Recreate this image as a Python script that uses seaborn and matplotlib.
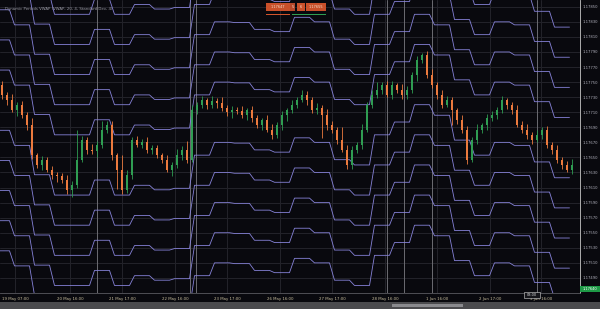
import numpy as np
import pandas as pd
import matplotlib
matplotlib.use("Agg")
import matplotlib.pyplot as plt
from matplotlib.patches import Rectangle
import seaborn as sns

# ---------------- data ----------------
close = [
    1.17733, 1.17726, 1.17713, 1.17720, 1.17706, 1.17693, 1.17653, 1.17640, 1.17647, 1.17633,
    1.17627, 1.17625, 1.17620, 1.17607, 1.17614, 1.17647, 1.17673, 1.17660, 1.17658, 1.17667,
    1.17687, 1.17693, 1.17653, 1.17633, 1.17607, 1.17627, 1.17673, 1.17667, 1.17671, 1.17660,
    1.17662, 1.17653, 1.17647, 1.17633, 1.17640, 1.17653, 1.17660, 1.17647, 1.17713, 1.17720,
    1.17726, 1.17719, 1.17725, 1.17722, 1.17716, 1.17710, 1.17713, 1.17712, 1.17706, 1.17713,
    1.17702, 1.17693, 1.17700, 1.17687, 1.17680, 1.17693, 1.17706, 1.17713, 1.17720, 1.17726,
    1.17733, 1.17726, 1.17713, 1.17716, 1.17706, 1.17693, 1.17687, 1.17673, 1.17660, 1.17640,
    1.17660, 1.17667, 1.17687, 1.17720, 1.17733, 1.17740, 1.17746, 1.17733, 1.17746, 1.17740,
    1.17733, 1.17740, 1.17760, 1.17779, 1.17786, 1.17760, 1.17746, 1.17733, 1.17720, 1.17726,
    1.17713, 1.17700, 1.17687, 1.17647, 1.17673, 1.17687, 1.17693, 1.17702, 1.17706, 1.17713,
    1.17726, 1.17720, 1.17713, 1.17693, 1.17687, 1.17680, 1.17673, 1.17680, 1.17687, 1.17667,
    1.17660, 1.17647, 1.17640, 1.17633, 1.17640,
]
first_open = 1.17746
upper_wick_pts = [
    6, 4, 8, 3, 5, 4, 10, 3, 5, 4,
    6, 3, 4, 7, 5, 40, 6, 4, 8, 5,
    12, 6, 5, 3, 20, 6, 4, 5, 3, 6,
    4, 5, 3, 6, 4, 8, 5, 12, 6, 4,
    5, 3, 6, 4, 8, 3, 5, 4, 6, 3,
    5, 4, 3, 6, 8, 4, 5, 3, 6, 4,
    7, 5, 4, 6, 3, 8, 5, 4, 18, 6,
    5, 4, 8, 3, 6, 10, 4, 5, 6, 3,
    8, 5, 4, 6, 3, 5, 7, 4, 6, 5,
    4, 3, 6, 5, 4, 8, 3, 5, 6, 4,
    5, 3, 4, 6, 5, 8, 4, 6, 3, 5,
    4, 6, 3, 5, 8,
]
lower_wick_pts = [
    5, 6, 3, 8, 4, 6, 5, 4, 7, 3,
    5, 8, 4, 6, 10, 5, 3, 6, 4, 7,
    5, 4, 6, 25, 5, 4, 6, 3, 5, 4,
    6, 4, 5, 3, 8, 4, 6, 5, 3, 6,
    4, 5, 3, 6, 4, 5, 8, 4, 3, 6,
    5, 4, 6, 3, 5, 4, 6, 7, 4, 5,
    3, 6, 4, 5, 30, 6, 4, 5, 3, 6,
    5, 4, 6, 3, 5, 4, 6, 3, 5, 4,
    6, 5, 4, 8, 3, 5, 4, 6, 5, 3,
    20, 5, 4, 6, 3, 5, 4, 6, 3, 5,
    4, 6, 5, 3, 4, 6, 5, 3, 6, 4,
    5, 4, 6, 3, 5,
]
# VWAP value once every 4 candles (stepped)
vwap = [
    1.17726, 1.17706, 1.17667, 1.17640, 1.17640, 1.17660, 1.17640, 1.17653, 1.17647, 1.17649,
    1.17693, 1.17710, 1.17709, 1.17700, 1.17697, 1.17716, 1.17710, 1.17687, 1.17680, 1.17720,
    1.17737, 1.17760, 1.17746, 1.17713, 1.17693, 1.17710, 1.17706, 1.17684, 1.17663,
]
band_mult = [-5, -4, -3, -2, -1, 1, 2, 3, 4, 5]
band_dev = 0.00040

price_ticks = [1.17850, 1.17830, 1.17810, 1.17790, 1.17770, 1.17750, 1.17730, 1.17710,
               1.17690, 1.17670, 1.17650, 1.17630, 1.17610, 1.17590, 1.17570, 1.17550,
               1.17530, 1.17510, 1.17490]
time_tick_pos = [2.6, 13.6, 24.0, 34.6, 45.0, 55.6, 66.0, 76.6, 87.0, 97.6, 107.8]
time_labels = ["19 May 07:00", "20 May 16:00", "21 May 17:00", "22 May 16:00",
               "23 May 17:00", "26 May 16:00", "27 May 17:00", "28 May 16:00",
               "1 Jun 16:00", "2 Jun 17:00", "3 Jun 16:00"]
separators = [19.0, 37.6, 38.8, 77.0, 80.4, 86.0, 107.0]

# ---------------- styling ----------------
BG = "#09090e"
GRID = "#23232a"
UP = "#2f9d52"
DOWN = "#ec7a3e"
BAND = "#8682d8"

sns.set_theme(style="dark")
plt.rcParams["font.family"] = ["DejaVu Sans"]

W, H = 600, 309
fig = plt.figure(figsize=(W / 100, H / 100), dpi=100, facecolor=BG)
ax = fig.add_axes([0, 16 / H, 580 / W, 293 / H])
ax.set_facecolor(BG)

n = len(close)
idx = np.arange(n)
opens = [first_open] + close[:-1]
df = pd.DataFrame({"i": idx, "open": opens, "close": close,
                   "uw": np.array(upper_wick_pts) * 1e-5,
                   "lw": np.array(lower_wick_pts) * 1e-5})
df["top"] = df[["open", "close"]].max(axis=1)
df["bot"] = df[["open", "close"]].min(axis=1)
df["high"] = df["top"] + df["uw"]
df["low"] = df["bot"] - df["lw"]
df["up"] = df["close"] >= df["open"]
colors = [UP if u else DOWN for u in df["up"]]

# grid
for p in price_ticks:
    ax.axhline(p, color=GRID, lw=0.7, zorder=0)
for t in time_tick_pos:
    ax.axvline(t, color=GRID, lw=0.7, zorder=0)
for s in separators:
    ax.axvline(s, color="#6c6c72", lw=0.7, zorder=1)

# VWAP deviation bands: flat steps joined by short slanted connectors
rows = []
for m in band_mult:
    for k, v in enumerate(vwap):
        x0 = 4 * k
        for x in (x0 - 1.5, x0 + 1.5):
            rows.append({"i": x, "price": v + m * band_dev, "band": m})
bands = pd.DataFrame(rows)
sns.lineplot(data=bands, x="i", y="price", units="band", estimator=None, sort=False,
             color=BAND, lw=0.6, ax=ax, zorder=2, legend=False)

# candles
ax.vlines(df["i"], df["low"], df["high"], colors=colors, lw=0.6, zorder=3)
ax.bar(df["i"], (df["top"] - df["bot"]).clip(lower=0.000015), bottom=df["bot"],
       width=0.5, color=colors, linewidth=0, zorder=4)

ax.set_xlim(-0.4, 115.6)
ax.set_ylim(1.17470, 1.17859)
ax.set_xlabel("")
ax.set_ylabel("")

ax.yaxis.tick_right()
ax.set_yticks(price_ticks)
ax.set_yticklabels([f"{p:.5f}" for p in price_ticks])
ax.tick_params(axis="y", length=0, pad=2.0, labelsize=2.7, labelcolor="#b0b0bc")
ax.set_xticks(time_tick_pos)
ax.set_xticklabels(time_labels)
ax.tick_params(axis="x", length=1.5, width=0.5, color="#d0d0d0", pad=1.2,
               labelsize=2.8, labelcolor="#c9bf9e", direction="out")
ax.grid(False)
for side in ["top", "left"]:
    ax.spines[side].set_visible(False)
ax.spines["bottom"].set_color("#5a5a60")
ax.spines["bottom"].set_linewidth(0.6)
ax.spines["right"].set_color("#c8c8c8")
ax.spines["right"].set_linewidth(0.6)

# title text
fig.text(5 / W, 1 - 9 / H, "Dynamic Periods VWAP (VWAP, 20, 4, Standard Dev, 4)",
         fontsize=2.8, color="#9a9aa4", va="center", ha="left")

def fig_rect(x0, y0, w, h, **kw):
    fig.patches.append(Rectangle((x0 / W, 1 - (y0 + h) / H), w / W, h / H,
                                 transform=fig.transFigure, figure=fig, **kw))

# quick-trade buttons
fig_rect(266, 3, 24, 8, facecolor="#c9502a", edgecolor="none")
fig_rect(290, 3, 5, 8, facecolor="#b8482a", edgecolor="none")
fig_rect(297, 3, 8, 8, facecolor="#c9502a", edgecolor="none")
fig_rect(306, 3, 20, 8, facecolor="#c9502a", edgecolor="none")
fig_rect(266, 13.5, 24, 1.0, facecolor="#d2552c", edgecolor="none")
fig_rect(292, 13.5, 34, 1.0, facecolor="#2f9d52", edgecolor="none")
for x, s in [(278, "1.17647"), (292.5, "5"), (301, "6"), (316, "1.17655")]:
    fig.text(x / W, 1 - 7 / H, s, fontsize=2.5, color="#f2e0d0", ha="center", va="center")

# current price box
fig_rect(580, 286, 20, 6, facecolor="#1e9a46", edgecolor="none")
fig.text(590 / W, 1 - 289 / H, "1.17640", fontsize=2.6, color="white", ha="center", va="center")

# crosshair time box
fig_rect(524, 292, 16, 5.5, facecolor="#15151a", edgecolor="#d8d8d8", linewidth=0.4)
fig.text(532 / W, 1 - 294.8 / H, "03:00", fontsize=2.5, color="#e0e0e0", ha="center", va="center")

# scrollbar
fig_rect(0, 302, 600, 7, facecolor="#4b4b4e", edgecolor="none")
fig_rect(392, 303.5, 71, 3, facecolor="#8a8a8e", edgecolor="none")

fig.savefig("out.png", dpi=100, facecolor=BG)
